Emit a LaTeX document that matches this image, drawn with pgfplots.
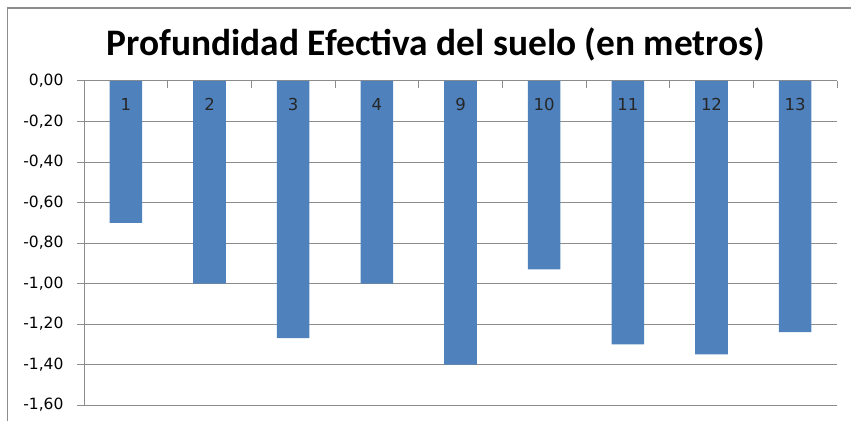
\documentclass[border=0pt]{standalone}
\usepackage{fontspec}
\setmainfont{Carlito}
\newfontfamily\dejavu{DejaVu Sans}
\usepackage{pgfplots}
\pgfplotsset{compat=1.18}
\definecolor{barblue}{HTML}{4F81BD}
\definecolor{gridgray}{HTML}{8C8C8C}
\begin{document}
\begin{tikzpicture}
\useasboundingbox (0pt,0pt) rectangle (851pt,421pt);
\draw[gridgray, line width=1.5pt] (7.5pt,0pt) -- (7.5pt,413pt) -- (851pt,413pt);
\node[font=\fontsize{37.4}{42}\selectfont\bfseries] at (436pt,377pt) {Profundidad Efectiva del suelo (en metros)};
\begin{axis}[
  at={(84pt,16pt)}, anchor=south west,
  scale only axis, width=753pt, height=324pt,
  xmin=-0.5, xmax=8.5, ymin=-1.6, ymax=0,
  axis x line*=top, axis y line*=left,
  axis line style={gridgray, line width=1pt, -},
  xtick={0,...,8},
  xticklabels={},
  minor xtick={-0.5,0.5,1.5,2.5,3.5,4.5,5.5,6.5,7.5,8.5},
  major x tick style={draw=none},
  minor x tick style={gridgray, line width=1pt, yshift=-7pt},
  tick align=outside,
  major tick length=7pt, minor tick length=7pt,
  ytick={-1.6,-1.4,-1.2,-1.0,-0.8,-0.6,-0.4,-0.2,0},
  major y tick style={gridgray, line width=1pt},
  ymajorgrids=true,
  major grid style={gridgray, line width=1pt},
  yticklabel style={font=\dejavu\fontsize{15.5}{18}\selectfont, anchor=east, xshift=-10pt,
    /pgf/number format/.cd, fixed, fixed zerofill, precision=2, use comma, assume math mode=true},
]
\addplot[ybar, bar width=0.39, fill=barblue, draw=none] coordinates {(0,-0.70) (1,-1.00) (2,-1.27) (3,-1.00) (4,-1.40) (5,-0.93) (6,-1.30) (7,-1.35) (8,-1.24)};
\addplot[draw=none, mark=none, nodes near coords, point meta=explicit symbolic,
  nodes near coords style={font=\dejavu\fontsize{16.5}{19}\selectfont, anchor=center, yshift=-23pt, text=black!85}]
  coordinates {(0,0)[1] (1,0)[2] (2,0)[3] (3,0)[4] (4,0)[9] (5,0)[10] (6,0)[11] (7,0)[12] (8,0)[13]};
\end{axis}
\end{tikzpicture}
\end{document}
